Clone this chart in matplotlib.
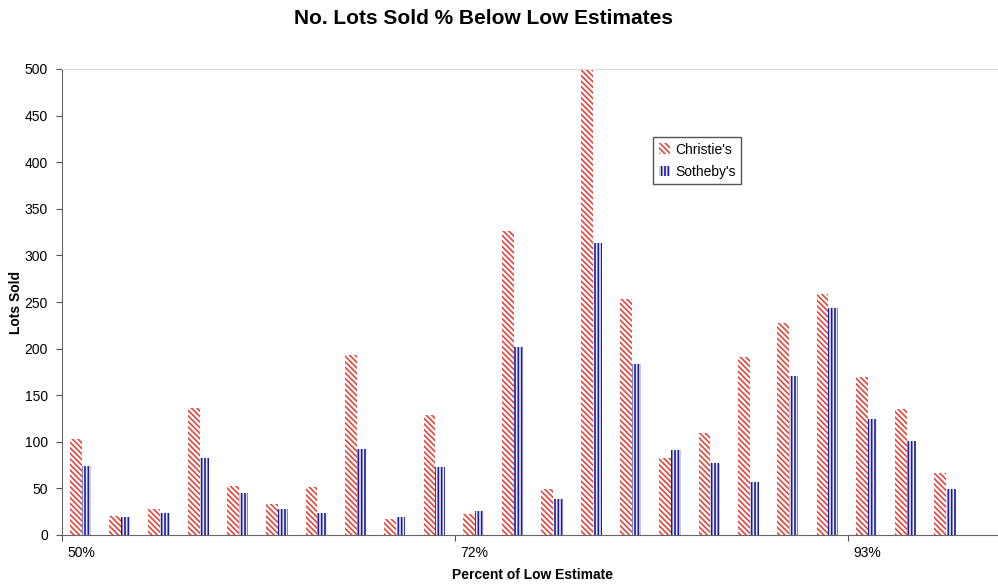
import numpy as np
import matplotlib
matplotlib.use("Agg")
import matplotlib.pyplot as plt

matplotlib.rcParams.update({'font.family': ['Liberation Sans', 'DejaVu Sans'], 'font.size': 10,
                            'hatch.linewidth': 1.2})

# data
labels = ["50%", "72%", "93%"]
label_pos = [0, 10, 20]
christies = [103, 20, 28, 136, 53, 33, 52, 193, 17, 129, 22, 326, 49, 500, 253,
             83, 109, 191, 228, 259, 170, 135, 67]
sothebys = [74, 19, 24, 83, 45, 28, 24, 92, 19, 73, 26, 202, 39, 313, 184,
            91, 77, 57, 171, 244, 124, 101, 49]

red = '#e5453d'
blue = '#1c1c9c'

fig = plt.figure(figsize=(9.98, 5.85), dpi=100)
ax = fig.add_axes([62/998, 50/585, 1 - 62/998, 466/585])

x = np.arange(len(christies))
wc, ws = 0.30, 0.24
ax.bar(x - wc, christies, wc, align='edge', color='white', edgecolor=red,
       hatch='\\\\\\\\\\\\', linewidth=0, label="Christie's")
ax.bar(x, sothebys, ws, align='edge', color='#ececf8', edgecolor=blue,
       hatch='|||||', linewidth=0, label="Sotheby's")

ax.set_xlim(-0.5, (998 - 62)/39.3 - 0.5)
ax.set_ylim(0, 500)
ax.set_yticks(range(0, 501, 50))

# category ticks at group boundaries, labels at group centers
ax.set_xticks([-0.5, 9.5, 19.5])
ax.set_xticklabels([])
ax.set_xticks(label_pos, minor=True)
ax.set_xticklabels(labels, minor=True)
ax.tick_params(axis='x', which='minor', length=0, pad=8)
ax.tick_params(axis='x', which='major', length=4, color='#555555')
ax.tick_params(axis='y', length=4, color='#555555', pad=6)

for s in ['left', 'bottom']:
    ax.spines[s].set_color('#666666')
ax.spines['top'].set_color('#dddddd')
ax.spines['right'].set_visible(False)

fig.text(484/998, 1 - 18/585, "No. Lots Sold % Below Low Estimates", ha='center', va='center',
         fontsize=15, fontweight='bold')
fig.text(16/998, 1 - 302/585, "Lots Sold", rotation=90, ha='center', va='center',
         fontsize=10, fontweight='bold')
fig.text(533/998, 1 - 575/585, "Percent of Low Estimate", ha='center', va='center',
         fontsize=10, fontweight='bold')

leg = ax.legend(loc='upper left', bbox_to_anchor=(653/998, 1 - 137/585),
                bbox_transform=fig.transFigure, fancybox=False, framealpha=1,
                edgecolor='#555555', handlelength=0.8, handleheight=0.8,
                handletextpad=0.4, borderpad=0.4, labelspacing=0.6, fontsize=10,
                borderaxespad=0)
leg.get_frame().set_linewidth(1.0)

fig.savefig("out.png", dpi=100)
